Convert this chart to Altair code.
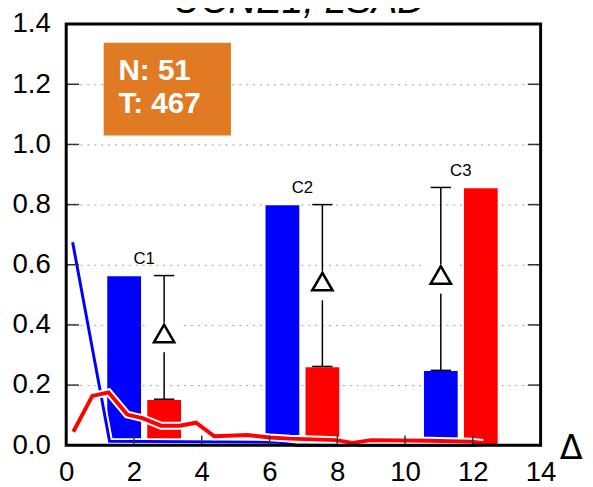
import altair as alt
import pandas as pd

# ---------------- data ----------------
clusters = ["C1", "C2", "C3"]
cluster_center = [2.30, 6.97, 11.645]
blue_vals = [0.564, 0.800, 0.249]
red_vals = [0.153, 0.262, 0.857]

blue_line_x = [0.19, 1.28, 6.3, 6.8, 12.3]
blue_line_y = [0.675, 0.013, 0.010, 0.0, 0.0]

red_line_x = [0.21, 0.77, 1.25, 1.80, 2.25, 2.80, 3.35, 3.83, 4.37, 5.35, 6.0, 6.6, 7.96, 8.45, 9.0, 10.7, 11.95, 12.3]
red_line_y = [0.045, 0.164, 0.176, 0.102, 0.090, 0.065, 0.065, 0.075, 0.030, 0.034, 0.026, 0.022, 0.017, 0.008, 0.017, 0.015, 0.012, 0.008]

x_ticks = [0, 2, 4, 6, 8, 10, 12, 14]
y_ticks = [0.0, 0.2, 0.4, 0.6, 0.8, 1.0, 1.2, 1.4]
title_text = "UCNE1, LSAD"
box_lines = ["N: 51", "T: 467"]
delta = "Δ"

# ---------------- layout ----------------
W, H = 481, 427
BAR_OFF, BAR_HALF, CAP_HALF = 0.59, 0.52, 0.30
BLUE, RED, ORANGE = "#0000ff", "#ff0000", "#e07b24"
FONT = "Liberation Sans"
SYMFONT = "DejaVu Sans"

xscale = alt.Scale(domain=[0, 14], nice=False, zero=False)
yscale = alt.Scale(domain=[0, 1.4], nice=False, zero=False)
xaxis = alt.Axis(values=x_ticks, title=None, grid=False, domain=False, ticks=False, tickSize=0,
                 labelFontSize=28, labelPadding=14, labelFlush=False, labelOverlap=False,
                 labelColor="black", labelFont=FONT)
yaxis = alt.Axis(values=y_ticks, format=".1f", title=None, grid=True, domain=False, ticks=False, tickSize=0,
                 gridDash=[2, 5], gridColor="#a0a0a0", gridWidth=1,
                 labelFontSize=28, labelPadding=16, labelFlush=False, labelOverlap=False,
                 labelColor="black", labelFont=FONT)


def X(f):
    return alt.X(f, type="quantitative", scale=xscale, axis=xaxis)


def Y(f):
    return alt.Y(f, type="quantitative", scale=yscale, axis=yaxis)


bar_rows = []
err_rows = []
lab_rows = []
for name, c, b, r in zip(clusters, cluster_center, blue_vals, red_vals):
    bc, rc = c - BAR_OFF, c + BAR_OFF
    bar_rows.append({"series": "blue", "x0": bc - BAR_HALF, "x1": bc + BAR_HALF, "base": 0.0, "val": b})
    bar_rows.append({"series": "red", "x0": rc - BAR_HALF, "x1": rc + BAR_HALF, "base": 0.0, "val": r})
    lo, hi = min(b, r), max(b, r)
    ex = bc if b < r else rc
    err_rows.append({"ex": ex, "lo": lo, "hi": hi, "mid": (lo + hi) / 2,
                     "capL": ex - CAP_HALF, "capR": ex + CAP_HALF})
    lab_rows.append({"x": c, "y": hi, "label": name})

bars_df = pd.DataFrame(bar_rows)
err_df = pd.DataFrame(err_rows)
lab_df = pd.DataFrame(lab_rows)
blue_df = pd.DataFrame({"x": blue_line_x, "y": blue_line_y})
red_df = pd.DataFrame({"x": red_line_x, "y": red_line_y})
one = pd.DataFrame({"k": [0]})
ytick_df = pd.DataFrame({"t": y_ticks[1:-1]})
xtick_df = pd.DataFrame({"t": x_ticks[1:-1]})

bars = alt.Chart(bars_df).mark_rect(stroke="white", strokeWidth=1.5).encode(
    x=X("x0"), x2="x1", y=Y("base"), y2="val",
    color=alt.Color("series:N", scale=alt.Scale(domain=["blue", "red"], range=[BLUE, RED]), legend=None),
)

blue_halo = alt.Chart(blue_df).mark_line(color="white", strokeWidth=7).encode(x=X("x"), y=Y("y"))
blue_line = alt.Chart(blue_df).mark_line(color=BLUE, strokeWidth=3).encode(x=X("x"), y=Y("y"))
red_halo = alt.Chart(red_df).mark_line(color="white", strokeWidth=8).encode(x=X("x"), y=Y("y"))
red_line = alt.Chart(red_df).mark_line(color=RED, strokeWidth=4).encode(x=X("x"), y=Y("y"))

err_rule = alt.Chart(err_df).mark_rule(color="black", strokeWidth=1.5).encode(x=X("ex"), y=Y("lo"), y2="hi")
cap_lo = alt.Chart(err_df).mark_rule(color="black", strokeWidth=1.5).encode(x=X("capL"), x2="capR", y=Y("lo"))
cap_hi = alt.Chart(err_df).mark_rule(color="black", strokeWidth=1.5).encode(x=X("capL"), x2="capR", y=Y("hi"))
gap = alt.Chart(err_df).mark_square(size=900, color="white", opacity=1, filled=True, strokeWidth=0).encode(
    x=X("ex"), y=Y("mid"))
tri = alt.Chart(err_df).mark_point(shape="triangle-up", size=420, filled=False, fill="white", fillOpacity=1,
                                   stroke="black", strokeWidth=2.6, opacity=1, yOffset=-4).encode(
    x=X("ex"), y=Y("mid"))

labels = alt.Chart(lab_df).mark_text(fontSize=17, font=FONT, color="black", align="center",
                                     baseline="alphabetic", dy=-12).encode(x=X("x"), y=Y("y"), text="label:N")

box = alt.Chart(one).mark_rect(color=ORANGE).encode(
    x=alt.value(38), x2=alt.value(167), y=alt.value(19), y2=alt.value(113))
box_text = alt.Chart(one).mark_text(text=box_lines, fontSize=30, fontWeight="bold", font=FONT, color="white",
                                    align="left", baseline="alphabetic", lineHeight=33).encode(
    x=alt.value(53), y=alt.value(57))

title = alt.Chart(one).mark_text(text=title_text, fontSize=39, fontStyle="italic", font=FONT, color="black",
                                 align="center", baseline="alphabetic").encode(
    x=alt.value(236), y=alt.value(-11))
xlab = alt.Chart(one).mark_text(text=delta, fontSize=34, font=SYMFONT, color="black",
                                align="center", baseline="alphabetic").encode(
    x=alt.value(512), y=alt.value(441))

ltick = alt.Chart(ytick_df).mark_rule(color="#333333", strokeWidth=1.5).encode(
    x=alt.value(0), x2=alt.value(13), y=Y("t"))
rtick = alt.Chart(ytick_df).mark_rule(color="#333333", strokeWidth=1.5).encode(
    x=alt.value(W - 13), x2=alt.value(W), y=Y("t"))
btick = alt.Chart(xtick_df).mark_rule(color="#333333", strokeWidth=1.5).encode(
    x=X("t"), y=alt.value(H - 10), y2=alt.value(H))

frame = alt.Chart(one).mark_rect(filled=False, stroke="black", strokeWidth=3).encode(
    x=alt.value(0), x2=alt.value(W), y=alt.value(0), y2=alt.value(H))

chart = alt.layer(
    bars, blue_halo, blue_line, red_halo, red_line,
    err_rule, cap_lo, cap_hi, gap, tri, labels,
    box, box_text, title, xlab, ltick, rtick, btick, frame,
).properties(
    width=W, height=H,
    autosize=alt.AutoSizeParams(type="none"),
    padding={"left": 59, "top": 13, "right": 45, "bottom": 39},
    usermeta={"embedOptions": {"defaultStyle":
        ".vega-embed{position:relative;display:inline-block;box-sizing:border-box}"
        ".vega-embed svg{overflow:visible}"}},
).configure_view(stroke=None).configure(font=FONT)

chart.save("out.html", embed_options={"renderer": "svg", "actions": False})
